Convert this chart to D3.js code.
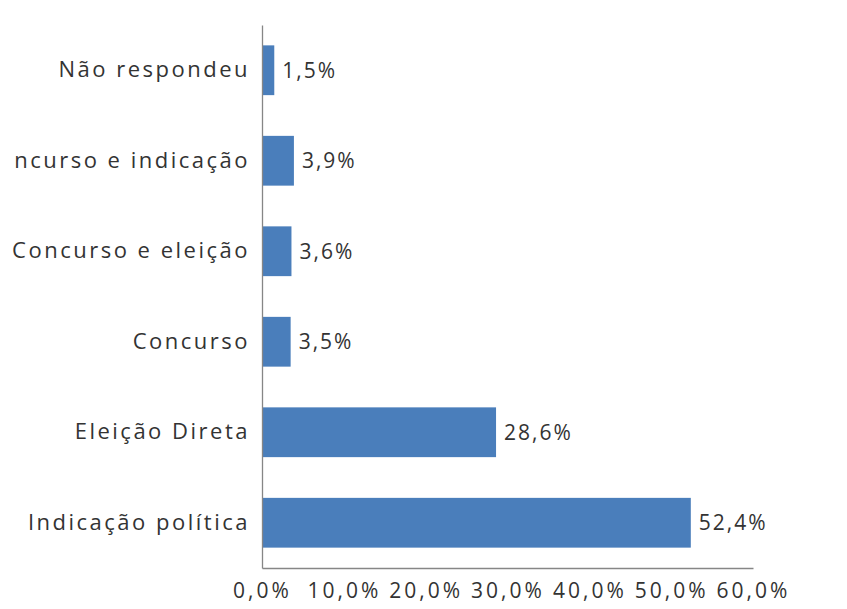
<!DOCTYPE html>
<html>
<head>
<meta charset="utf-8">
<script src="https://cdn.jsdelivr.net/npm/d3@7"></script>
<style>
  html, body { margin: 0; padding: 0; background: #ffffff; }
  svg { display: block; }
  text { font-family: "Open Sans", "DejaVu Sans", sans-serif; fill: #333333; }
</style>
</head>
<body>
<script>
// Forma de escolha — percentuais por categoria (de cima para baixo)
const categories = [
  "Não respondeu",
  "Concurso e indicação",
  "Concurso e eleição",
  "Concurso",
  "Eleição Direta",
  "Indicação política"
];
const values = [1.5, 3.9, 3.6, 3.5, 28.6, 52.4];
const tickValues = [0, 10, 20, 30, 40, 50, 60];

const width = 847, height = 609;
const margin = { top: 25, right: 94, bottom: 41, left: 262 };

const svg = d3.select("body").append("svg")
  .attr("width", width)
  .attr("height", height);

const fmt = v => d3.format(".1f")(v).replace(".", ",") + "%";

const x = d3.scaleLinear()
  .domain([0, 60])
  .range([margin.left, width - margin.right]);

const y = d3.scaleBand()
  .domain(categories)
  .range([margin.top, height - margin.bottom])
  .paddingInner(0.45)
  .paddingOuter(0.225);

// Recorte da área visível dos rótulos à esquerda
svg.append("defs").append("clipPath").attr("id", "clip-labels")
  .append("rect").attr("x", 12).attr("y", 0).attr("width", width).attr("height", height);

// Barras
svg.append("g").selectAll("rect")
  .data(categories)
  .join("rect")
  .attr("x", x(0))
  .attr("y", d => y(d))
  .attr("width", (d, i) => x(values[i]) - x(0))
  .attr("height", y.bandwidth())
  .attr("fill", "#4a7ebb");

// Rótulos de valor
svg.append("g").selectAll("text")
  .data(categories)
  .join("text")
  .attr("x", (d, i) => x(values[i]) + 8)
  .attr("y", d => y(d) + y.bandwidth() / 2)
  .attr("dy", "0.35em")
  .attr("font-size", 21)
  .attr("letter-spacing", 2)
  .text((d, i) => fmt(values[i]));

// Eixo vertical (categorias)
const yAxis = svg.append("g")
  .attr("clip-path", "url(#clip-labels)")
  .append("g")
  .attr("transform", `translate(${x(0)},0)`)
  .call(d3.axisLeft(y).tickSize(0).tickPadding(12));
yAxis.select(".domain").attr("stroke", "#868686").attr("stroke-width", 1.3);
yAxis.selectAll("text")
  .attr("font-size", 22)
  .attr("letter-spacing", 2.5)
  .attr("fill", "#333333");

// Eixo horizontal (percentuais)
const xAxis = svg.append("g")
  .attr("transform", `translate(0,${height - margin.bottom})`)
  .call(d3.axisBottom(x).tickValues(tickValues).tickFormat(fmt).tickSize(0).tickPadding(15));
xAxis.select(".domain").attr("stroke", "#868686").attr("stroke-width", 1.3);
xAxis.selectAll("text")
  .attr("font-size", 21)
  .attr("letter-spacing", 3)
  .attr("fill", "#333333");
</script>
</body>
</html>
